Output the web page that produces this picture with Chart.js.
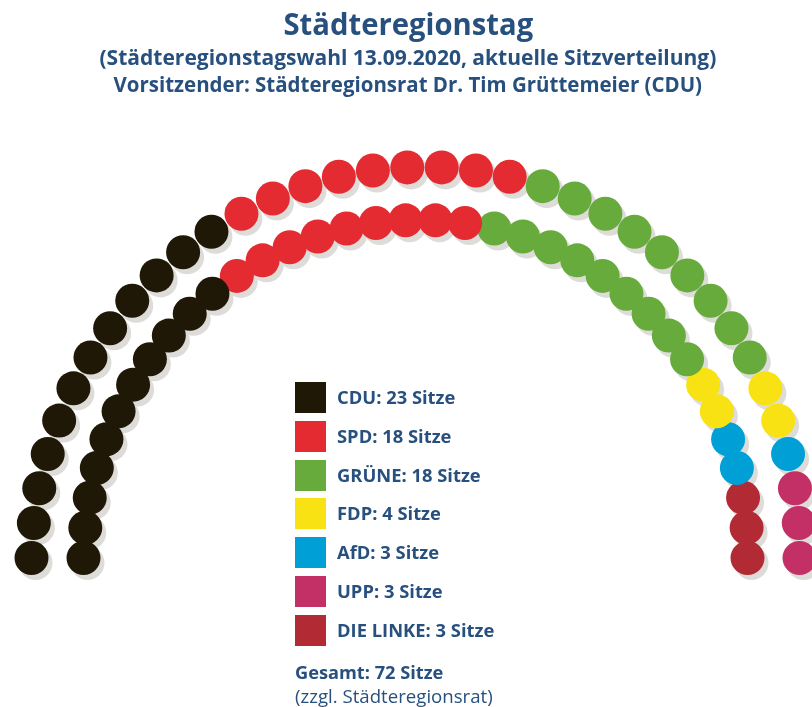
<!DOCTYPE html>
<html lang="de">
<head>
<meta charset="UTF-8">
<title>Städteregionstag</title>
<script src="https://cdn.jsdelivr.net/npm/chart.js@4"></script>
<style>
  body { margin: 0; background: #fff; font-family: "Open Sans", sans-serif; color: #27507f; }
  #wrap { position: relative; width: 812px; height: 707px; overflow: hidden; }
  #seats { position: absolute; left: 0; top: 0; }
  .head { position: absolute; left: 0; width: 816px; text-align: center; white-space: nowrap; font-weight: 700; line-height: 1; }
  .head span, .fit { display: inline-block; transform-origin: left center; }
  .head span { transform-origin: center center; }
  #legend { position: absolute; left: 295px; top: 382px; }
  .row { position: absolute; left: 0; height: 31px; white-space: nowrap; }
  .sq { position: absolute; left: 0; top: 0; width: 31px; height: 31px; }
  .lbl { position: absolute; left: 42px; top: 0; line-height: 31px; font-size: 17.8px; font-weight: 700; }
  .foot { position: absolute; left: 295px; white-space: nowrap; font-size: 17.6px; line-height: 1; }
</style>
</head>
<body>
<div id="wrap">
  <canvas id="seats" width="812" height="707"></canvas>
  <div class="head" style="top:8px;font-size:31px"><span data-w="250">Städteregionstag</span></div>
  <div class="head" style="top:47px;font-size:20.5px"><span data-w="617">(Städteregionstagswahl 13.09.2020, aktuelle Sitzverteilung)</span></div>
  <div class="head" style="top:74px;font-size:20.5px"><span data-w="589">Vorsitzender: Städteregionsrat Dr. Tim Grüttemeier (CDU)</span></div>
  <div id="legend"></div>
  <div class="foot" style="top:664px;font-weight:700"><span class="fit" data-w="148">Gesamt: 72 Sitze</span></div>
  <div class="foot" style="top:688px;font-weight:400"><span class="fit" data-w="198">(zzgl. Städteregionsrat)</span></div>
</div>
<script>
// seat distribution
const parties = ["CDU", "SPD", "GRÜNE", "FDP", "AfD", "UPP", "DIE LINKE"];
const seats = [23, 18, 18, 4, 3, 3, 3];
const innerRow = [11, 9, 9, 2, 2, 0, 3];
const outerRow = [12, 9, 9, 2, 1, 3, 0];
const colors = ["#201807", "#e42b31", "#66ab3b", "#f8e214", "#009fd6", "#c33065", "#b22b34"];

// arc geometry in pixels (1 scale unit = 1 px)
const cx = 415.5, cy = 558;
const rows = [
  { counts: innerRow, rx: 332, ry: 338, skew: 0.015 },
  { counts: outerRow, rx: 384, ry: 391, skew: 0.023 }
];

const points = parties.map(() => []);
const shadow = [];
rows.forEach(r => {
  const n = r.counts.reduce((a, b) => a + b, 0);
  let k = 0;
  r.counts.forEach((c, p) => {
    for (let j = 0; j < c; j++) {
      const a = Math.PI - k * Math.PI / (n - 1);
      const y = r.ry * Math.sin(a);
      const x = r.rx * Math.cos(a) + r.skew * y;
      points[p].push({ x: x, y: y });
      shadow.push({ x: x + 4, y: y - 5 });
      k++;
    }
  });
});

const datasets = parties.map((p, i) => ({
  label: p,
  data: points[i],
  backgroundColor: colors[i],
  pointRadius: 17,
  pointBorderWidth: 0,
  clip: false,
  order: 0
}));
datasets.push({
  label: "shadow",
  data: shadow,
  backgroundColor: "#dddcd8",
  pointRadius: 17,
  pointBorderWidth: 0,
  clip: false,
  order: 1
});

new Chart(document.getElementById("seats"), {
  type: "scatter",
  data: { datasets: datasets },
  options: {
    responsive: false,
    animation: false,
    devicePixelRatio: 1,
    layout: { padding: 0, autoPadding: false },
    events: [],
    plugins: { legend: { display: false }, tooltip: { enabled: false } },
    scales: {
      x: { display: false, min: -cx, max: 812 - cx },
      y: { display: false, min: cy - 707, max: cy }
    }
  }
});

// legend
const legend = document.getElementById("legend");
parties.forEach((p, i) => {
  const row = document.createElement("div");
  row.className = "row";
  row.style.top = (i * 38.8) + "px";
  row.innerHTML = '<div class="sq" style="background:' + colors[i] + '"></div>' +
    '<div class="lbl"><span class="fit">' + p + ": " + seats[i] + " Sitze</span></div>";
  legend.appendChild(row);
});

// squeeze text to the widths of the original condensed face
document.querySelectorAll("[data-w]").forEach(el => {
  el.style.transform = "scaleX(" + (el.dataset.w / el.offsetWidth) + ")";
});
const first = legend.querySelector(".fit");
const f = 118.7 / first.offsetWidth;
legend.querySelectorAll(".fit").forEach(el => { el.style.transform = "scaleX(" + f + ")"; });
</script>
</body>
</html>
